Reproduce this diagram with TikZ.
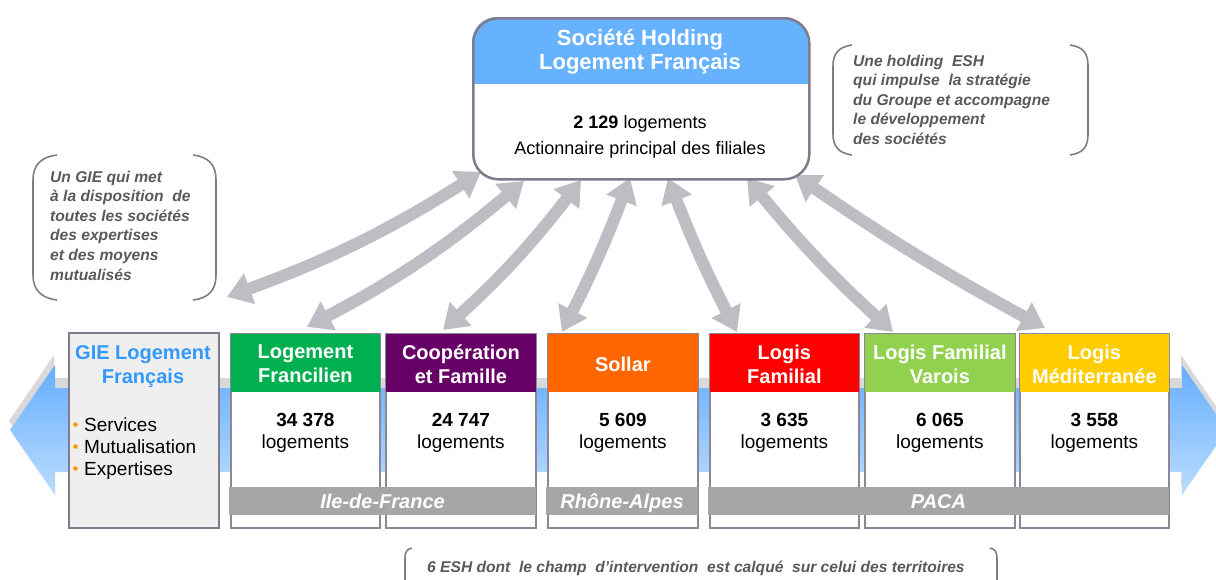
\documentclass[tikz,border=0pt]{standalone}
\usepackage{fontspec}
\setmainfont{Liberation Sans}
\usetikzlibrary{arrows.meta,calc}
\definecolor{bordc}{HTML}{7F7A8C}
\definecolor{boxbord}{HTML}{8C8696}
\definecolor{arrc}{HTML}{C0BCC4}
\definecolor{holdblue}{HTML}{66B2FF}
\definecolor{giefill}{HTML}{EFEFEF}
\definecolor{gieblue}{HTML}{3399FF}
\definecolor{bulletc}{HTML}{FF9900}
\definecolor{notec}{HTML}{595959}
\definecolor{regc}{HTML}{A6A6A6}
\definecolor{cLF}{HTML}{00B050}
\definecolor{cCF}{HTML}{660066}
\definecolor{cSO}{HTML}{FF6600}
\definecolor{cLFa}{HTML}{FF0000}
\definecolor{cLFV}{HTML}{92D050}
\definecolor{cLM}{HTML}{FFCC00}
\definecolor{bluetop}{HTML}{66ADFF}
\definecolor{bluebot}{HTML}{BBDDFF}
\definecolor{shadowc}{HTML}{D9D9DC}
\begin{document}
\begin{tikzpicture}[x=1pt,y=-1pt,
  hdr/.style={text=white,font=\fontsize{20}{24}\selectfont\bfseries,align=center,inner sep=0pt},
  numtxt/.style={font=\fontsize{19}{23}\selectfont\bfseries,anchor=base,inner sep=0pt},
  lgtxt/.style={font=\fontsize{19}{23}\selectfont,anchor=base,inner sep=0pt},
  regtxt/.style={text=white,font=\fontsize{20}{24}\selectfont\bfseries\itshape,anchor=base,inner sep=0pt},
  notetxt/.style={text=notec,font=\fontsize{15.6}{19.5}\selectfont\bfseries\itshape,anchor=base west,inner sep=0pt},
  bracket/.style={draw=bordc,line width=1.6pt},
  compbox/.style={draw=boxbord,line width=1.8pt,fill=white,minimum width=149pt,minimum height=194pt,inner sep=0pt,anchor=north west},
  bullettxt/.style={font=\fontsize{19}{23}\selectfont,anchor=base west,inner sep=0pt},
  dbl/.style={draw=arrc,line width=12pt,{Triangle[width=31pt,length=24pt]}-{Triangle[width=31pt,length=24pt]}}
]
\useasboundingbox (0,0) rectangle (1216,579);

% ---------- callouts ----------
\draw[bracket] (57,155) .. controls (41,157) and (33,165) .. (33,180) -- (33,275) .. controls (33,290) and (41,298) .. (57,300);
\draw[bracket] (193,155) .. controls (209,157) and (216,165) .. (216,180) -- (216,275) .. controls (216,290) and (209,298) .. (193,300);
\foreach \t [count=\i from 0] in {Un GIE qui met,à la disposition\ \ de,toutes les sociétés,des expertises,et des moyens,mutualisés}
  \node[notetxt] (gn\i) at (50,182+19.6*\i) {\t};

\draw[bracket] (852,45) .. controls (838,47) and (833,54) .. (833,66) -- (833,134) .. controls (833,146) and (838,153) .. (852,155);
\draw[bracket] (1070,45) .. controls (1084,47) and (1088,54) .. (1088,66) -- (1088,134) .. controls (1088,146) and (1084,153) .. (1070,155);
\foreach \t [count=\i from 0] in {Une holding\ \ ESH,qui impulse\ \ la stratégie,du Groupe et accompagne,le développement,des sociétés}
  \node[notetxt] (hn\i) at (853,66+19.5*\i) {\t};

\draw[bracket] (412,548) .. controls (407,549) and (405,552) .. (405,558) -- (405,585);
\draw[bracket] (990,548) .. controls (995,549) and (997,552) .. (997,558) -- (997,585);
\node[notetxt] (bn) at (427,572) {6 ESH dont\ \ le champ\ \ d’intervention\ \ est calqué\ \ sur celui des territoires};

% ---------- big horizontal arrow ----------
\fill[shadowc] (9,421) -- (54,355) -- (54,378) -- (1181,378) -- (1181,355) -- (1226,421) -- (1181,487) -- (1181,463) -- (54,463) -- (54,487) -- cycle;
\shade[top color=bluetop,bottom color=bluebot] (10,430) -- (55,365) -- (55,388) -- (1182,388) -- (1182,365) -- (1227,430) -- (1182,495) -- (1182,472) -- (55,472) -- (55,495) -- cycle;

% ---------- GIE box ----------
\node[draw=bordc,line width=2.2pt,fill=giefill,minimum width=150pt,minimum height=195pt,anchor=north west,inner sep=0pt] (gie) at (68,332) {};
\node[text=gieblue,font=\fontsize{20}{24}\selectfont\bfseries,align=center,anchor=base,inner sep=0pt] (gietitle) at (143,383) {GIE Logement\\Français};
\foreach \t/\y in {Services/431,Mutualisation/453,Expertises/475}{
  \fill[bulletc] (75.5,\y-6.5) circle (2.3pt);
  \node[bullettxt] at (84,\y) {\t};
}

% ---------- company boxes ----------
\foreach \nm/\x/\w/\col/\num in {lf/230/149/cLF/34 378,cf/385/150/cCF/24 747,so/547/150/cSO/5 609,lfa/709/149/cLFa/3 635,lfv/864/150/cLFV/6 065,lm/1019/149/cLM/3 558}{
  \node[compbox,minimum width=\w pt] (\nm) at (\x,333) {};
  \fill[\col] ($(\nm.north west)+(0.9,0.9)$) rectangle ($(\nm.north east)+(-0.9,59)$);
  \node[numtxt] (\nm num) at ($(\nm.north)+(0,93)$) {\num};
  \node[lgtxt] (\nm lg) at ($(\nm.north)+(0,115)$) {logements};
}
\node[hdr] at ($(lf.north)+(0,31)$) {Logement\\Francilien};
\node[hdr] at ($(cf.north)+(0,31)$) {Coopération\\et Famille};
\node[hdr,anchor=base] at ($(so.north)+(0,38)$) {Sollar};
\node[hdr] at ($(lfa.north)+(0,31)$) {Logis\\Familial};
\node[hdr] at ($(lfv.north)+(0,31)$) {Logis Familial\\Varois};
\node[hdr] at ($(lm.north)+(0,31)$) {Logis\\Méditerranée};

% ---------- region bars ----------
\fill[regc] (229,487) rectangle (536,515);
\fill[regc] (546,487) rectangle (698,515);
\fill[regc] (708,487) rectangle (1169,515);
\node[regtxt] (r1) at (382.5,508) {Ile-de-France};
\node[regtxt] (r2) at (622,508) {Rhône-Alpes};
\node[regtxt] (r3) at (938.5,508) {PACA};

% ---------- double arrows ----------
\coordinate (gA) at (227,297);
\coordinate (lfA) at (307,327);
\coordinate (cfA) at (443,330);
\coordinate (soA) at (562,332);
\coordinate (lfaA) at (737,332);
\coordinate (lfvA) at (893,332);
\coordinate (lmA) at (1045,328);
\coordinate (h1) at (481,172);
\coordinate (h2) at (524,181);
\coordinate (h3) at (581,180);
\coordinate (h4) at (630,178);
\coordinate (h5) at (668,178);
\coordinate (h6) at (747,178);
\coordinate (h7) at (795,175);
\draw[dbl] (gA) to[bend right=6] (h1);
\draw[dbl] (lfA) to[bend right=6] (h2);
\draw[dbl] (cfA) to[bend right=5] (h3);
\draw[dbl] (soA) to[bend right=3] (h4);
\draw[dbl] (h5) to[bend right=3] (lfaA);
\draw[dbl] (h6) to[bend right=4] (lfvA);
\draw[dbl] (h7) to[bend right=3] (lmA);

% ---------- holding box ----------
\begin{scope}
  \clip[rounded corners=25pt] (472,17) rectangle (808,178);
  \fill[white] (472,17) rectangle (808,178);
  \fill[holdblue] (472,17) rectangle (808,84);
\end{scope}
\node[draw=bordc,line width=2.5pt,rounded corners=25pt,minimum width=336pt,minimum height=161pt,anchor=north west,inner sep=0pt] (hold) at (472,17) {};
\node[text=white,font=\fontsize{22}{23.5}\selectfont\bfseries,align=center,anchor=base,inner sep=0pt] (holdtitle) at (640,69) {Société Holding\\Logement Français};
\node[font=\fontsize{18}{22}\selectfont,anchor=base,inner sep=0pt] (holdnum) at (640,128) {\textbf{2 129} logements};
\node[font=\fontsize{18}{22}\selectfont,anchor=base,inner sep=0pt] (holdact) at (640,154) {Actionnaire principal des filiales};
\end{tikzpicture}
\end{document}
